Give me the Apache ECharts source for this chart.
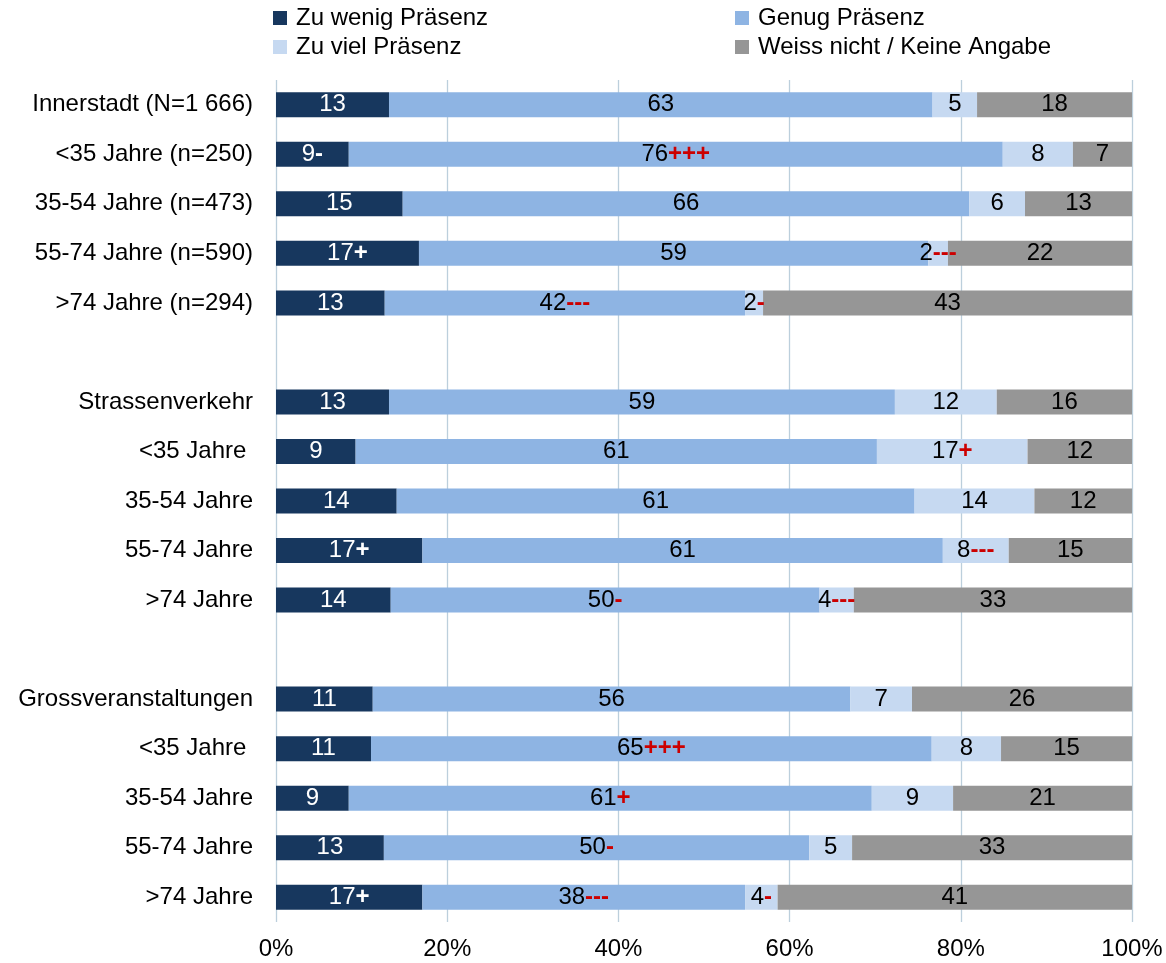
<!DOCTYPE html>
<html>
<head>
<meta charset="utf-8">
<script src="https://cdn.jsdelivr.net/npm/echarts@6/dist/echarts.min.js"></script>
<style>
html,body{margin:0;padding:0;background:#fff;}
#chart{width:1166px;height:963px;}
</style>
</head>
<body>
<div id="chart"></div>
<script>
const categories = ['Innerstadt (N=1 666)','<35 Jahre (n=250)','35-54 Jahre (n=473)','55-74 Jahre (n=590)','>74 Jahre (n=294)','',
  'Strassenverkehr','<35 Jahre ','35-54 Jahre','55-74 Jahre','>74 Jahre','',
  'Grossveranstaltungen','<35 Jahre ','35-54 Jahre','55-74 Jahre','>74 Jahre'];
const seriesNames = ['Zu wenig Präsenz','Genug Präsenz','Zu viel Präsenz','Weiss nicht / Keine Angabe'];

// segment widths (percent)
const wenig = [13.2, 8.5, 14.8, 16.7, 12.7, null, 13.2, 9.3, 14.1, 17.1, 13.4, null, 11.3, 11.1, 8.5, 12.6, 17.1];
const genug = [63.5, 76.4, 66.2, 59.5, 42.1, null, 59.1, 60.9, 60.5, 60.8, 50.1, null, 55.8, 65.5, 61.1, 49.7, 37.7];
const viel  = [5.2, 8.2, 6.5, 2.3, 2.1, null, 11.9, 17.6, 14.0, 7.7, 4.0, null, 7.2, 8.1, 9.5, 5.0, 3.8];
const weiss = [18.1, 6.9, 12.5, 21.5, 43.1, null, 15.8, 12.2, 11.4, 14.4, 32.5, null, 25.7, 15.3, 20.9, 32.7, 41.4];

// printed labels
const wenigLbl = ['13','9','15','17','13','','13','9','14','17','14','','11','11','9','13','17'];
const genugLbl = ['63','76','66','59','42','','59','61','61','61','50','','56','65','61','50','38'];
const vielLbl  = ['5','8','6','2','2','','12','17','14','8','4','','7','8','9','5','4'];
const weissLbl = ['18','7','13','22','43','','16','12','12','15','33','','26','15','21','33','41'];

// significance markers
const wenigMark = ['','-','','+','','','','','','+','','','','','','','+'];
const genugMark = ['','+++','','','---','','','','','','-','','','+++','+','-','---'];
const vielMark  = ['','','','---','-','','','+','','---','---','','','','','','-'];
const weissMark = ['','','','','','','','','','','','','','','','',''];

const xTicks = [0, 20, 40, 60, 80, 100];

const colors = ['#17375E', '#8EB4E3', '#C6D9F1', '#969696'];
const FONT = "'Liberation Sans', Arial, sans-serif";
const FS = 24;

function mkSeries(idx, values, labels, marks, textColor, markColor) {
  return {
    name: seriesNames[idx],
    type: 'bar',
    stack: 'total',
    barWidth: 25,
    data: values.map(v => v === null ? '-' : v),
    itemStyle: { color: colors[idx] },
    emphasis: { disabled: true },
    label: {
      show: true,
      position: 'inside',
      formatter: function (p) {
        const l = labels[p.dataIndex];
        if (!l) return '';
        const m = marks[p.dataIndex];
        return '{n|' + l + '}' + (m ? '{m|' + m + '}' : '');
      },
      rich: {
        n: { fontFamily: FONT, fontSize: FS, color: textColor },
        m: { fontFamily: FONT, fontSize: FS, fontWeight: 'bold', color: markColor }
      }
    }
  };
}

const legendCommon = {
  orient: 'vertical', top: 6, padding: 0,
  icon: 'rect', itemWidth: 14, itemHeight: 14, itemGap: 5,
  textStyle: { fontFamily: FONT, fontSize: FS, color: '#000', padding: [0, 0, 0, 4] },
  selectedMode: false
};

const chart = echarts.init(document.getElementById('chart'), null, { renderer: 'canvas' });
chart.setOption({
  animation: false,
  backgroundColor: '#ffffff',
  textStyle: { fontFamily: FONT },
  legend: [
    Object.assign({ data: [seriesNames[0], seriesNames[2]], left: 273 }, legendCommon),
    Object.assign({ data: [seriesNames[1], seriesNames[3]], left: 735 }, legendCommon)
  ],
  grid: { left: 276, right: 34, top: 80, bottom: 41, containLabel: false },
  xAxis: {
    type: 'value', min: xTicks[0], max: xTicks[xTicks.length - 1], interval: 20,
    axisLine: { show: false }, axisTick: { show: false },
    splitLine: { show: true, lineStyle: { color: '#BCCFDC', width: 1.3 } },
    axisLabel: { formatter: '{value}%', color: '#000', fontSize: FS, fontFamily: FONT, margin: 15 }
  },
  yAxis: {
    type: 'category', data: categories, inverse: true,
    axisLine: { show: false }, axisTick: { show: false },
    splitLine: { show: false },
    axisLabel: { color: '#000', fontSize: FS, fontFamily: FONT, margin: 23, interval: 0 }
  },
  series: [
    mkSeries(0, wenig, wenigLbl, wenigMark, '#ffffff', '#ffffff'),
    mkSeries(1, genug, genugLbl, genugMark, '#000000', '#CC0000'),
    mkSeries(2, viel, vielLbl, vielMark, '#000000', '#CC0000'),
    mkSeries(3, weiss, weissLbl, weissMark, '#000000', '#CC0000')
  ]
});
</script>
</body>
</html>
